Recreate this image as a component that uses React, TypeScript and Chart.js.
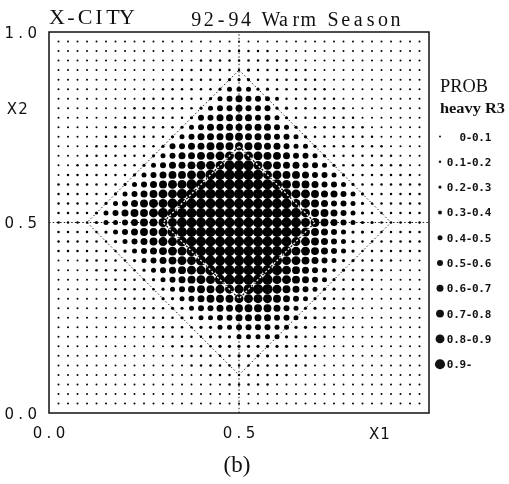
import React, { useEffect, useRef } from "react";
import { Chart, registerables } from "chart.js";

Chart.register(...registerables);

// ---------- data ----------
const gridX = [
  0.025, 0.05, 0.075, 0.1, 0.125, 0.15, 0.175, 0.2, 0.225, 0.25, 0.275, 0.3, 0.325,
  0.35, 0.375, 0.4, 0.425, 0.45, 0.475, 0.5, 0.525, 0.55, 0.575, 0.6, 0.625, 0.65,
  0.675, 0.7, 0.725, 0.75, 0.775, 0.8, 0.825, 0.85, 0.875, 0.9, 0.925, 0.95, 0.975,
];
const gridY = gridX.slice(); // X2 values, bottom to top

// probability class (0 = 0-0.1 ... 9 = 0.9-) for each grid node, top row (X2=0.975) first
const probRows = [
  "000000000000000000000000000000000000000",
  "000000000000000000111110000000000000000",
  "000000000000000111111111100000000000000",
  "000000000000011111112111111000000000000",
  "000000000000111111222111111100000000000",
  "00000000000" + "111111" + "244422" + "111111" + "0000000000",
  "000000000" + "1111111" + "24565543" + "111111" + "000000000",
  "00000000" + "1111111" + "2455655522" + "111111" + "00000000",
  "0000000" + "1111111" + "25566665542" + "1111111" + "0000000",
  "000000" + "1111111" + "2456666666542" + "1111111" + "000000",
  "00000" + "1111111" + "245666776665542" + "1111111" + "00000",
  "0000" + "1111111" + "25566777777665442" + "1111111" + "0000",
  "000" + "1111111" + "2456677888887765542" + "1111111" + "000",
  "00" + "1111111" + "245667888999887665542" + "1111111" + "00",
  "0" + "1111111" + "24567788999999887765542" + "1111111" + "0",
  "1111111" + "2456788" + "9999999999" + "87765542" + "1111111",
  "111111" + "245678899" + "99999999" + "9988766542" + "111111",
  "11111" + "245678899" + "999999999" + "9988765542" + "111111",
  "1111" + "245677899" + "99999999999" + "998776542" + "111111",
  "1111" + "2445677889" + "9999999999" + "9988765422" + "11111",
  "11111" + "245677899" + "9999999999" + "998765422" + "111111",
  "111111" + "245678899" + "99999999" + "998876542" + "1111111",
  "1111111" + "245678899" + "9999999" + "998876542" + "1111111",
  "00011111" + "245678899" + "99999" + "99887654221" + "111000",
  "000011111" + "24567889999" + "9" + "9998765422" + "1" + "1110000",
  "0000011111" + "245678899999988765421" + "11100000",
  "00000011111" + "24567788899987654221" + "11000000",
  "00000001111" + "2245677788887654221" + "110000000",
  "000000001111" + "22455667777654221" + "1100000000",
  "0000000001111" + "2244556666554221" + "1100000000",
  "000000000011111" + "2244555544221" + "11000000000",
  "0000000000011111" + "22244444221" + "110000000000",
  "000000000000111112222222211100000000000",
  "000000000000011111122221111100000000000",
  "000000000000001111111111111000000000000",
  "000000000000000011111111100000000000000",
  "000000000000000000111110000000000000000",
  "000000000000000000000000000000000000000",
  "000000000000000000000000000000000000000",
];

const probClassLabels = [
  "  0-0.1", "0.1-0.2", "0.2-0.3", "0.3-0.4", "0.4-0.5",
  "0.5-0.6", "0.6-0.7", "0.7-0.8", "0.8-0.9", "0.9-",
];

const outerDiamondX = [0.5, 0.9, 0.5, 0.1, 0.5];
const outerDiamondY = [0.9, 0.5, 0.1, 0.5, 0.9];
const innerDiamondX = [0.5, 0.7, 0.5, 0.3, 0.5];
const innerDiamondY = [0.7, 0.5, 0.3, 0.5, 0.7];
const vLineX = [0.5, 0.5];
const vLineY = [0, 1];
const hLineX = [0, 1];
const hLineY = [0.5, 0.5];

const xTickValues = [0, 0.5];
const xTickLabels = ["0.0", "0.5"];
const yTickValues = [0, 0.5, 1];
const yTickLabels = ["0.0", "0.5", "1.0"];
const xAxisName = "X1";
const xAxisNameAt = 0.87;
const yAxisName = "X2";
const yAxisNameAt = 0.8;

const titleLeft = "X-CITY";
const titleRight = "92-94 Warm Season";
const legendTitle1 = "PROB";
const legendTitle2 = "heavy R3";
const caption = "(b)";

// ---------- styles ----------
const RADII = [1.0, 1.25, 1.6, 2.0, 2.5, 3.0, 3.5, 3.95, 4.45, 5.05];

function zipXY(xs: number[], ys: number[]) {
  return xs.map((x, i) => ({ x, y: ys[i] }));
}

function drawMono(ctx: CanvasRenderingContext2D, text: string, left: number, baseline: number, advance: number) {
  ctx.textAlign = "center";
  for (let i = 0; i < text.length; i++) {
    ctx.fillText(text[i], left + advance * (i + 0.5), baseline);
  }
}

function drawFit(ctx: CanvasRenderingContext2D, text: string, left: number, baseline: number, width: number) {
  const w = ctx.measureText(text).width;
  ctx.save();
  ctx.translate(left, baseline);
  ctx.scale(width / w, 1);
  ctx.textAlign = "left";
  ctx.fillText(text, 0, 0);
  ctx.restore();
}

const paperPlugin = {
  id: "paper",
  beforeDraw(chart: any) {
    const ctx = chart.ctx;
    ctx.save();
    ctx.fillStyle = "#ffffff";
    ctx.fillRect(0, 0, chart.width, chart.height);
    ctx.restore();
  },
  beforeDatasetDraw(chart: any, args: any) {
    if (chart.data.datasets[args.index].xorLine) {
      chart.ctx.save();
      chart.ctx.globalCompositeOperation = "difference";
    }
  },
  afterDatasetDraw(chart: any, args: any) {
    if (chart.data.datasets[args.index].xorLine) {
      chart.ctx.restore();
    }
  },
  afterDraw(chart: any) {
    const ctx: CanvasRenderingContext2D = chart.ctx;
    const ca = chart.chartArea;
    const xs = chart.scales.x;
    const ys = chart.scales.y;
    ctx.save();
    // frame
    ctx.strokeStyle = "#111";
    ctx.lineWidth = 1.5;
    ctx.strokeRect(ca.left, ca.top, ca.right - ca.left, ca.bottom - ca.top);

    ctx.fillStyle = "#111";
    ctx.textBaseline = "alphabetic";
    // titles
    ctx.font = "22px 'Liberation Serif'";
    drawMono(ctx, titleLeft, 50, 23.5, 14);
    ctx.font = "20px 'Liberation Serif'";
    drawMono(ctx, titleRight, 190, 25.5, 12.45);

    // axis tick labels
    ctx.font = "15px 'DejaVu Sans'";
    const adv = 11.5;
    yTickValues.forEach((v, i) => {
      const t = yTickLabels[i];
      const py = ys.getPixelForValue(v);
      drawMono(ctx, t, 38 - adv * t.length, py + 5.5, adv);
    });
    drawMono(ctx, yAxisName, 6.5, ys.getPixelForValue(yAxisNameAt) + 5.5, 11);
    xTickValues.forEach((v, i) => {
      const t = xTickLabels[i];
      const px = xs.getPixelForValue(v);
      drawMono(ctx, t, px - (adv * t.length) / 2, 438, adv);
    });
    drawMono(ctx, xAxisName, xs.getPixelForValue(xAxisNameAt) - 11, 438.5, 11);

    // legend
    ctx.font = "19px 'Liberation Serif'";
    drawFit(ctx, legendTitle1, 440, 92, 48);
    ctx.font = "bold 14px 'Liberation Serif'";
    drawFit(ctx, legendTitle2, 440, 113, 65);
    ctx.font = "bold 11px 'DejaVu Sans Mono'";
    probClassLabels.forEach((lab, k) => {
      const cy = 136.5 + 25.3 * k;
      ctx.beginPath();
      ctx.arc(440, cy, RADII[k], 0, Math.PI * 2);
      ctx.fill();
      drawMono(ctx, lab, 447, cy + 4, 6.3);
    });

    // caption
    ctx.font = "23px 'Liberation Serif'";
    ctx.textAlign = "center";
    ctx.fillText(caption, 237, 472);
    ctx.restore();
  },
};

export default function App() {
  const ref = useRef<HTMLCanvasElement>(null);

  useEffect(() => {
    const canvas = ref.current;
    if (!canvas) return;
    const pts: { x: number; y: number }[][] = probClassLabels.map(() => []);
    probRows.forEach((row, r) => {
      const s = row.padEnd(39, "0").slice(0, 39);
      for (let c = 0; c < 39; c++) {
        const k = Number(s[c]);
        pts[k].push({ x: gridX[c], y: gridY[38 - r] });
      }
    });

    const lineBase = {
      type: "line" as const,
      borderColor: "#222",
      borderWidth: 1,
      borderDash: [1.5, 2.2],
      pointRadius: 0,
      fill: false,
      tension: 0,
      order: 20,
    };

    const datasets: any[] = [
      { ...lineBase, label: "outer", data: zipXY(outerDiamondX, outerDiamondY) },
      { ...lineBase, label: "vline", data: zipXY(vLineX, vLineY) },
      { ...lineBase, label: "hline", data: zipXY(hLineX, hLineY) },
      ...pts.map((data, k) => ({
        type: "scatter" as const,
        label: probClassLabels[k],
        data,
        pointRadius: RADII[k],
        pointHoverRadius: RADII[k],
        pointBorderWidth: 0,
        pointBackgroundColor: "#000",
        pointBorderColor: "#000",
        order: 10,
      })),
      {
        ...lineBase,
        label: "inner",
        data: zipXY(innerDiamondX, innerDiamondY),
        borderColor: "#ffffff",
        borderWidth: 1.2,
        borderDash: [2, 2],
        xorLine: true,
        order: 0,
      },
    ];

    const chart = new Chart(canvas, {
      type: "scatter",
      data: { datasets },
      options: {
        responsive: false,
        animation: false,
        devicePixelRatio: 1,
        layout: { padding: { left: 49, top: 32, right: 80, bottom: 71 } },
        scales: {
          x: { type: "linear", min: 0, max: 1, display: false },
          y: { type: "linear", min: 0, max: 1, display: false },
        },
        plugins: { legend: { display: false }, tooltip: { enabled: false } },
        events: [],
      },
      plugins: [paperPlugin],
    } as any);
    return () => chart.destroy();
  }, []);

  return (
    <div style={{ position: "absolute", left: 0, top: 0, width: 509, height: 484, background: "#fff" }}>
      <canvas ref={ref} width={509} height={484} style={{ display: "block" }} />
    </div>
  );
}
